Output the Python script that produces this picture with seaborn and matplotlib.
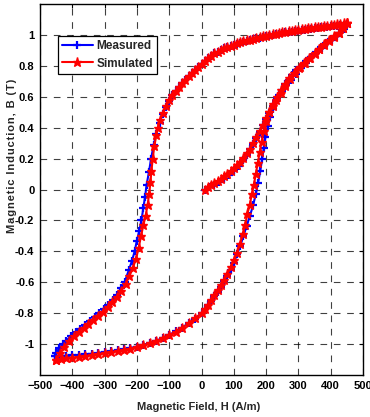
import numpy as np
import pandas as pd
import matplotlib
matplotlib.use("Agg")
import matplotlib.pyplot as plt
import seaborn as sns

# ---------------- data ----------------
# Measured: initial magnetisation curve
H_meas_init = [12, 25, 40, 55, 70, 85, 100, 115, 128, 140, 150, 160, 170, 180, 190,
               200, 210, 222, 235, 248, 262, 276, 292, 308, 324, 340, 356, 372,
               388, 404, 420, 436, 450]
B_meas_init = [0.0, 0.015, 0.03, 0.05, 0.07, 0.095, 0.125, 0.155, 0.19, 0.225, 0.26,
               0.295, 0.335, 0.375, 0.415, 0.455, 0.495, 0.54, 0.59, 0.635, 0.675,
               0.71, 0.75, 0.785, 0.82, 0.855, 0.885, 0.915, 0.945, 0.97, 0.995,
               1.03, 1.07]
# Measured: descending branch
H_meas_desc = [450, 440, 430, 420, 410, 400, 390, 380, 370, 360, 350, 340, 330, 320,
               310, 300, 290, 280, 270, 260, 250, 240, 230, 220, 210, 200, 190, 180,
               170, 160, 150, 140, 130, 120, 110, 100, 90, 80, 70, 60, 50, 40, 30,
               20, 10, 0, -10, -20, -30, -40, -50, -60, -70, -80, -90, -100, -110,
               -120, -130, -140, -148, -156, -163, -170, -175, -180, -186, -193,
               -200, -207, -215, -225, -238, -250, -262, -275, -288, -302, -316,
               -330, -345, -360, -375, -390, -405, -420, -430, -440, -450, -455]
B_meas_desc = [1.07, 1.065, 1.063, 1.06, 1.058, 1.055, 1.053, 1.05, 1.048, 1.045,
               1.042, 1.04, 1.037, 1.034, 1.031, 1.028, 1.025, 1.022, 1.019, 1.016,
               1.012, 1.008, 1.004, 1.0, 0.996, 0.992, 0.988, 0.983, 0.978, 0.973,
               0.968, 0.962, 0.956, 0.95, 0.944, 0.937, 0.93, 0.922, 0.913, 0.903,
               0.892, 0.88, 0.866, 0.851, 0.834, 0.815, 0.795, 0.775, 0.754, 0.733,
               0.71, 0.69, 0.665, 0.64, 0.61, 0.575, 0.535, 0.49, 0.43, 0.36, 0.29,
               0.2, 0.11, 0.03, -0.05, -0.12, -0.2, -0.27, -0.33, -0.4, -0.46, -0.52,
               -0.6, -0.64, -0.68, -0.715, -0.745, -0.775, -0.8, -0.825, -0.85,
               -0.875, -0.9, -0.925, -0.95, -0.98, -1.0, -1.025, -1.055, -1.08]
# Measured: ascending branch
H_meas_asc = [-455, -440, -420, -400, -380, -360, -340, -320, -300, -280, -260, -240,
              -220, -200, -180, -160, -140, -120, -100, -80, -60, -40, -20, 0, 10,
              20, 30, 40, 50, 60, 70, 80, 90, 100, 110, 120, 130, 140, 150, 160,
              168, 175, 182, 188, 193, 198, 205, 212, 220, 230, 240, 250, 260, 270,
              280, 294, 310, 325, 340, 356, 370, 385, 400, 415, 427, 440, 450]
B_meas_asc = [-1.08, -1.078, -1.075, -1.072, -1.07, -1.066, -1.062, -1.057, -1.052,
              -1.046, -1.04, -1.033, -1.025, -1.016, -1.005, -0.993, -0.978, -0.96,
              -0.94, -0.918, -0.893, -0.865, -0.835, -0.8, -0.775, -0.75, -0.72,
              -0.69, -0.66, -0.63, -0.595, -0.56, -0.52, -0.475, -0.42, -0.365,
              -0.3, -0.235, -0.17, -0.1, -0.03, 0.04, 0.12, 0.2, 0.27, 0.34, 0.41,
              0.47, 0.52, 0.57, 0.61, 0.645, 0.68, 0.71, 0.74, 0.77, 0.8, 0.83,
              0.86, 0.89, 0.92, 0.95, 0.975, 0.995, 1.01, 1.04, 1.07]

# Simulated: initial magnetisation curve
H_sim_init = [10, 20, 30, 40, 50, 60, 70, 80, 90, 100, 110, 120, 130, 140, 150, 160,
              170, 180, 190, 200, 210, 220, 232, 245, 260, 275, 290, 305, 320, 335,
              350, 365, 380, 395, 410, 425, 438, 450]
B_sim_init = [0.0, 0.013, 0.026, 0.04, 0.055, 0.07, 0.086, 0.102, 0.12, 0.14, 0.16,
              0.18, 0.205, 0.235, 0.265, 0.3, 0.34, 0.38, 0.42, 0.46, 0.5, 0.54,
              0.58, 0.625, 0.67, 0.715, 0.755, 0.79, 0.82, 0.85, 0.88, 0.91, 0.94,
              0.965, 0.99, 1.015, 1.045, 1.08]
# Simulated: descending branch
H_sim_desc = [450, 440, 430, 420, 410, 400, 390, 380, 370, 360, 350, 340, 330, 320,
              310, 300, 290, 280, 270, 260, 250, 240, 230, 220, 210, 200, 190, 180,
              170, 160, 150, 140, 130, 120, 110, 100, 90, 80, 70, 60, 50, 40, 30,
              20, 10, 0, -10, -20, -30, -40, -50, -60, -70, -80, -90, -100, -110,
              -120, -128, -135, -140, -146, -151, -155, -158, -162, -167, -173,
              -180, -187, -195, -203, -213, -223, -235, -248, -262, -276, -290,
              -305, -320, -335, -350, -365, -380, -395, -410, -425, -438, -449]
B_sim_desc = [1.08, 1.075, 1.072, 1.069, 1.066, 1.063, 1.06, 1.057, 1.054, 1.051,
              1.048, 1.045, 1.042, 1.039, 1.036, 1.033, 1.03, 1.027, 1.024, 1.02,
              1.016, 1.012, 1.008, 1.004, 1.0, 0.996, 0.991, 0.986, 0.981, 0.976,
              0.97, 0.964, 0.958, 0.952, 0.945, 0.938, 0.93, 0.922, 0.913, 0.903,
              0.892, 0.88, 0.866, 0.851, 0.834, 0.815, 0.795, 0.775, 0.754, 0.733,
              0.71, 0.69, 0.665, 0.64, 0.61, 0.578, 0.54, 0.495, 0.45, 0.4, 0.35,
              0.28, 0.2, 0.12, 0.05, -0.03, -0.1, -0.17, -0.23, -0.3, -0.38, -0.45,
              -0.51, -0.56, -0.61, -0.655, -0.695, -0.73, -0.76, -0.79, -0.82,
              -0.845, -0.87, -0.895, -0.92, -0.95, -0.98, -1.02, -1.06, -1.1]
# Simulated: ascending branch
H_sim_asc = [-449, -435, -420, -400, -380, -360, -340, -320, -300, -280, -260, -240,
             -220, -200, -180, -160, -140, -120, -100, -80, -60, -40, -20, 0, 10, 20,
             30, 40, 50, 60, 70, 80, 90, 100, 110, 120, 128, 135, 142, 149, 156,
             162, 168, 174, 180, 186, 193, 201, 210, 221, 233, 246, 259, 272, 287,
             302, 318, 334, 350, 365, 380, 395, 410, 425, 438, 450]
B_sim_asc = [-1.1, -1.095, -1.09, -1.087, -1.083, -1.078, -1.072, -1.066, -1.06,
             -1.053, -1.046, -1.038, -1.029, -1.019, -1.008, -0.995, -0.98, -0.962,
             -0.942, -0.92, -0.895, -0.866, -0.834, -0.798, -0.772, -0.745, -0.715,
             -0.684, -0.652, -0.62, -0.584, -0.545, -0.502, -0.455, -0.41, -0.35,
             -0.29, -0.23, -0.16, -0.1, -0.03, 0.03, 0.1, 0.17, 0.24, 0.31, 0.38,
             0.44, 0.5, 0.55, 0.6, 0.645, 0.685, 0.72, 0.755, 0.787, 0.818, 0.848,
             0.878, 0.908, 0.938, 0.963, 0.988, 1.013, 1.043, 1.08]

series_labels = ["Measured", "Simulated"]
x_ticks = [-500, -400, -300, -200, -100, 0, 100, 200, 300, 400, 500]
y_ticks = [-1, -0.8, -0.6, -0.4, -0.2, 0, 0.2, 0.4, 0.6, 0.8, 1]
y_tick_labels = ["-1", "-0.8", "-0.6", "-0.4", "-0.2", "0", "0.2", "0.4", "0.6", "0.8", "1"]
y_label_text = "Magnetic Induction, B (T)"

# ---------------- build data frames ----------------
df_meas = pd.DataFrame({
    "H": H_meas_init + H_meas_desc + H_meas_asc,
    "B": B_meas_init + B_meas_desc + B_meas_asc,
})
df_sim = pd.DataFrame({
    "H": H_sim_init + H_sim_desc + H_sim_asc,
    "B": B_sim_init + B_sim_desc + B_sim_asc,
})

sns.set_style("white")
plt.rcParams["font.family"] = ["Liberation Sans", "DejaVu Sans"]

fig = plt.figure(figsize=(3.70, 4.17), dpi=100)
ax = fig.add_axes([40 / 370, 42 / 417, 323 / 370, 371 / 417])

sns.lineplot(data=df_meas, x="H", y="B", sort=False, estimator=None, ax=ax,
             color="#0000ff", linewidth=1.5, linestyle="-", marker="+",
             markersize=6, markeredgewidth=1.6, markeredgecolor="#0000ff",
             label=series_labels[0])
sns.lineplot(data=df_sim, x="H", y="B", sort=False, estimator=None, ax=ax,
             color="#ff0000", linewidth=1.5, linestyle="-", marker="*",
             markersize=6.5, markeredgewidth=1.0, markeredgecolor="#ff0000",
             markerfacecolor="#ff0000", label=series_labels[1])

ax.set_xlim(-500, 500)
ax.set_ylim(-1.2, 1.2)
ax.set_xticks(x_ticks)
ax.set_yticks(y_ticks)
ax.set_yticklabels(y_tick_labels)
ax.tick_params(direction="in", length=3, width=0.8, top=True, right=True,
               labelsize=8, pad=4, colors="black")
for lbl in ax.get_xticklabels() + ax.get_yticklabels():
    lbl.set_fontweight("bold")

ax.grid(True, color="black", linestyle=(0, (6, 6)), linewidth=0.8, alpha=0.75)
for s in ax.spines.values():
    s.set_color("black")
    s.set_linewidth(1.0)

ax.set_xlabel("Magnetic Field, H (A/m)", fontsize=8, fontweight="bold")
ax.xaxis.set_label_coords(0.49, -0.072)
spaced = "\u200a".join(list(y_label_text))
ax.set_ylabel(spaced, fontsize=8, fontweight="bold")
ax.yaxis.set_label_coords(-0.072, 0.59)

leg = ax.legend(loc="upper left", bbox_to_anchor=(0.055, 0.915), fontsize=8.5,
                frameon=True, fancybox=False, framealpha=1, edgecolor="black",
                handlelength=2.6, borderpad=0.35, labelspacing=0.5,
                handletextpad=0.3, borderaxespad=0)
leg.get_frame().set_linewidth(0.9)
for t in leg.get_texts():
    t.set_fontweight("bold")

fig.savefig("out.png", dpi=100)
